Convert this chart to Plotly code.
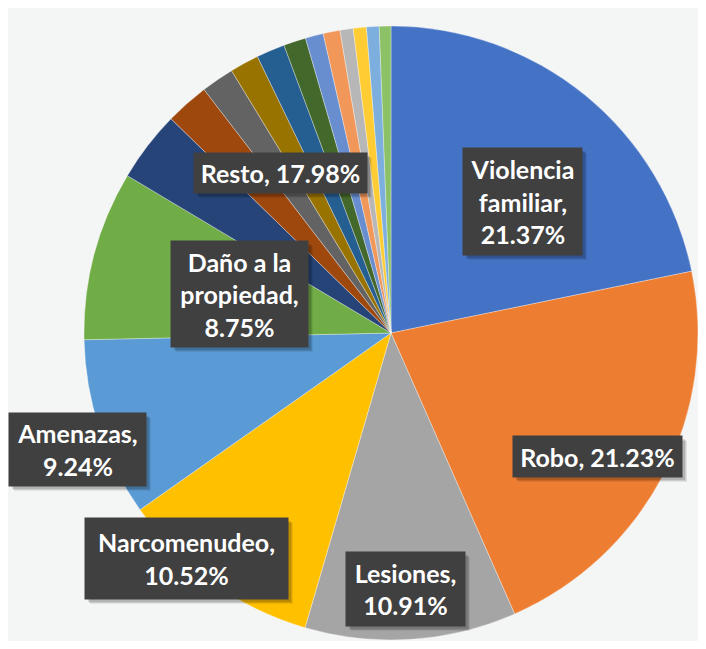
import plotly.graph_objects as go

# ---- data ----
main_labels = ["Violencia familiar", "Robo", "Lesiones", "Narcomenudeo", "Amenazas", "Daño a la propiedad"]
main_values = [21.37, 21.23, 10.91, 10.52, 9.24, 8.75]
other_labels = ["Otro 1", "Otro 2", "Otro 3", "Otro 4", "Otro 5", "Otro 6",
                "Otro 7", "Otro 8", "Otro 9", "Otro 10", "Otro 11", "Otro 12"]
other_values = [3.65, 2.25, 1.70, 1.50, 1.47, 1.15, 0.93, 0.87, 0.68, 0.68, 0.65, 0.60]
resto_label = "Resto"
resto_pct = 17.98

colors = ["#4472C4", "#ED7D31", "#A5A5A5", "#FFC000", "#5B9BD5", "#70AD47",
          "#264478", "#9E480E", "#636363", "#997300", "#255E91", "#43682B",
          "#698ED0", "#F1975A", "#B7B7B7", "#FFCD33", "#7CAFDD", "#8CC168"]

labels = main_labels + other_labels
values = main_values + other_values

# ---- canvas geometry (plot area pixels; page has an 8px body margin) ----
OFF = 8
W, H = 690, 633
cx, cy, r = 383, 325, 307

fig = go.Figure(go.Pie(
    labels=labels, values=values, sort=False, direction="clockwise", rotation=0,
    marker=dict(colors=colors, line=dict(color="rgba(255,255,255,0.55)", width=0.6)),
    textinfo="none", hoverinfo="label+percent", showlegend=False,
    domain=dict(x=[(cx - r) / W, min(1, (cx + r) / W)],
                y=[max(0, (H - cy - r) / H), min(1, (H - cy + r) / H)]),
))

# label box texts (with line breaks as in the chart)
texts = [
    "Violencia<br>familiar,<br>%.2f%%" % main_values[0],
    "%s, %.2f%%" % (main_labels[1], main_values[1]),
    "%s,<br>%.2f%%" % (main_labels[2], main_values[2]),
    "%s,<br>%.2f%%" % (main_labels[3], main_values[3]),
    "%s,<br>%.2f%%" % (main_labels[4], main_values[4]),
    "Daño a la<br>propiedad,<br>%.2f%%" % main_values[5],
    "%s, %.2f%%" % (resto_label, resto_pct),
]
# label boxes (left, top, right, bottom) in screen pixels
boxes = [(463, 148, 582, 255), (513, 436, 682, 477), (346, 552, 465, 626),
         (85, 518, 288, 599), (9, 413, 146, 486), (171, 241, 308, 347),
         (194, 153, 367, 193)]

def fx(px):
    return (px - OFF) / W

def fy(py):
    return 1 - (py - OFF) / H

font = dict(family="Lato, Carlito, Calibri, sans-serif", size=25, color="white")
for t, (x0, y0, x1, y1) in zip(texts, boxes):
    tb = "<b>" + t.replace("<br>", "</b><br><b>") + "</b>"
    # soft drop shadow
    for d, a in ((5, 0.07), (4, 0.10), (3, 0.12)):
        fig.add_shape(type="rect", xref="paper", yref="paper",
                      x0=fx(x0 + d), x1=fx(x1 + d), y0=fy(y0 + d), y1=fy(y1 + d),
                      fillcolor="rgba(0,0,0,%.2f)" % a, line=dict(width=0), layer="above")
    fig.add_annotation(x=fx((x0 + x1) / 2), y=fy((y0 + y1) / 2), xref="paper", yref="paper",
                       text=tb, xanchor="center", yanchor="middle",
                       width=x1 - x0, height=y1 - y0, borderpad=0,
                       showarrow=False, font=font, valign="middle",
                       bgcolor="#404040", align="center")

fig.update_layout(
    margin=dict(l=0, r=0, t=0, b=0),
    paper_bgcolor="#f4f5f5", plot_bgcolor="#f4f5f5",
)

fig.write_html("out.html")
